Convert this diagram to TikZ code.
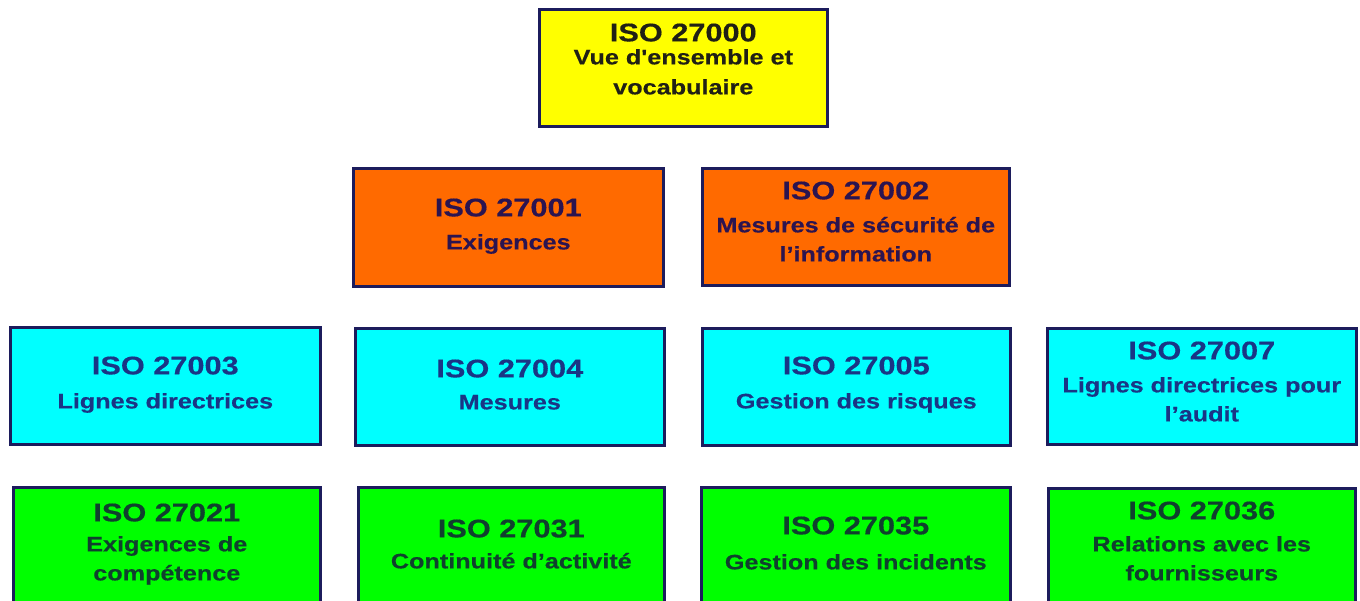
\documentclass[tikz,border=0pt]{standalone}
\usepackage{fontspec}
\newfontfamily\boxfont{Liberation Sans}[FakeStretch=1.2, FakeBold=0.4, Ligatures=TeXOff]
\definecolor{bord}{HTML}{1C1C5C}
\definecolor{fyel}{HTML}{FFFF00}
\definecolor{forg}{HTML}{FF6A00}
\definecolor{fcya}{HTML}{00FFFF}
\definecolor{fgrn}{HTML}{00FF00}
\definecolor{tyel}{HTML}{202015}
\definecolor{torg}{HTML}{2B1450}
\definecolor{tcya}{HTML}{1A3585}
\definecolor{tgrn}{HTML}{10402E}
\newcommand\ttl[1]{{\fontsize{25.6}{29}\selectfont #1}}
\begin{document}
\begin{tikzpicture}[x=1pt,y=-1pt,
  box/.style={draw=bord, line width=2.6pt, anchor=north west, inner sep=0pt,
    minimum width=308pt, minimum height=118pt},
  txt/.style={anchor=north, inner sep=0pt, align=center,
    font=\boxfont\bfseries\fontsize{21}{29}\selectfont},
  yel/.style={fill=fyel}, org/.style={fill=forg},
  cya/.style={fill=fcya}, grn/.style={fill=fgrn}]
\clip (0,0) rectangle (1360,600);
\fill[white] (0,0) rectangle (1360,600);
% row 1
\node[box, yel, minimum width=288pt, minimum height=117pt] (b27000) at (538,8) {};
\node[txt, text=tyel] (t27000) at (b27000.north |- 0,23.3) {\ttl{ISO 27000}\\[-6pt]Vue d'ensemble et\\[1pt]vocabulaire};
% row 2
\node[box, org, minimum width=310pt] (b27001) at (352,167) {};
\node[txt, text=torg] (t27001) at (b27001.north |- 0,198.3) {\ttl{ISO 27001}\\[4pt]Exigences};
\node[box, org, minimum width=307pt, minimum height=117pt] (b27002) at (701,167) {};
\node[txt, text=torg] (t27002) at (b27002.north |- 0,181.3) {\ttl{ISO 27002}\\[4pt]Mesures de sécurité de\\l’information};
% row 3
\node[box, cya, minimum width=310pt, minimum height=117pt] (b27003) at (9,326) {};
\node[txt, text=tcya] (t27003) at (b27003.north |- 0,356.3) {\ttl{ISO 27003}\\[5pt]Lignes directrices};
\node[box, cya, minimum width=309pt, minimum height=117pt] (b27004) at (354,327) {};
\node[txt, text=tcya] (t27004) at (b27004.north |- 0,359.3) {\ttl{ISO 27004}\\[3pt]Mesures};
\node[box, cya, minimum width=308pt, minimum height=117pt] (b27005) at (701,327) {};
\node[txt, text=tcya] (t27005) at (b27005.north |- 0,356.3) {\ttl{ISO 27005}\\[5pt]Gestion des risques};
\node[box, cya, minimum width=309pt, minimum height=116pt] (b27007) at (1046,327) {};
\node[txt, text=tcya] (t27007) at (b27007.north |- 0,341.3) {\ttl{ISO 27007}\\[4pt]Lignes directrices pour\\l’audit};
% row 4
\node[box, grn, minimum width=307pt] (b27021) at (12,486) {};
\node[txt, text=tgrn] (t27021) at (b27021.north |- 0,503.3) {\ttl{ISO 27021}\\[1pt]Exigences de\\compétence};
\node[box, grn, minimum width=306pt] (b27031) at (357,486) {};
\node[txt, text=tgrn] (t27031) at (b27031.north |- 0,519.3) {\ttl{ISO 27031}\\[2pt]Continuité d’activité};
\node[box, grn, minimum width=309pt] (b27035) at (700,486) {};
\node[txt, text=tgrn] (t27035) at (b27035.north |- 0,516.3) {\ttl{ISO 27035}\\[6pt]Gestion des incidents};
\node[box, grn, minimum width=307pt] (b27036) at (1047,487) {};
\node[txt, text=tgrn] (t27036) at (b27036.north |- 0,501.3) {\ttl{ISO 27036}\\[3pt]Relations avec les\\fournisseurs};
\end{tikzpicture}
\end{document}
